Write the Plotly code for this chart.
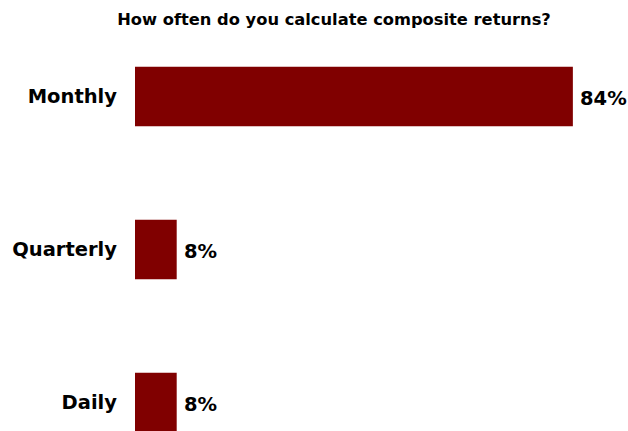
import plotly.graph_objects as go

# Survey responses
categories = ["Monthly", "Quarterly", "Daily"]
shares = [84, 8, 8]
title_text = "How often do you calculate composite returns?"

FONT = "'DejaVu Sans', sans-serif"
BAR_COLOR = "#800000"

fig = go.Figure(
    go.Bar(
        x=shares,
        y=categories,
        orientation="h",
        marker=dict(color=BAR_COLOR, line=dict(width=0)),
        width=0.39,
        hoverinfo="skip",
    )
)

# Percentage labels placed just past the end of each bar
for cat, val in zip(categories, shares):
    fig.add_annotation(
        x=val,
        y=cat,
        text=f"<b>{val}%</b>",
        showarrow=False,
        xanchor="left",
        yanchor="middle",
        xshift=5,
        yshift=-2,
        font=dict(family=FONT, size=19.5, color="#000000"),
    )

fig.update_layout(
    width=628,
    height=431,
    margin=dict(l=135, r=3, t=20, b=0),
    paper_bgcolor="white",
    plot_bgcolor="white",
    showlegend=False,
    title=dict(
        text=f"<b>{title_text}</b>",
        font=dict(family=FONT, size=16.3, color="#000000"),
        x=334 / 628,
        xanchor="center",
        yref="container",
        y=1 - 19 / 431,
        yanchor="middle",
    ),
    xaxis=dict(range=[0, 94], visible=False, fixedrange=True),
    yaxis=dict(
        categoryorder="array",
        categoryarray=categories,
        range=[2.186, -0.5],
        showline=False,
        showgrid=False,
        zeroline=False,
        ticks="",
        ticklabelstandoff=17,
        tickfont=dict(family=FONT, size=19.5, color="#000000", weight="bold"),
    ),
)

fig.write_html("out.html")
